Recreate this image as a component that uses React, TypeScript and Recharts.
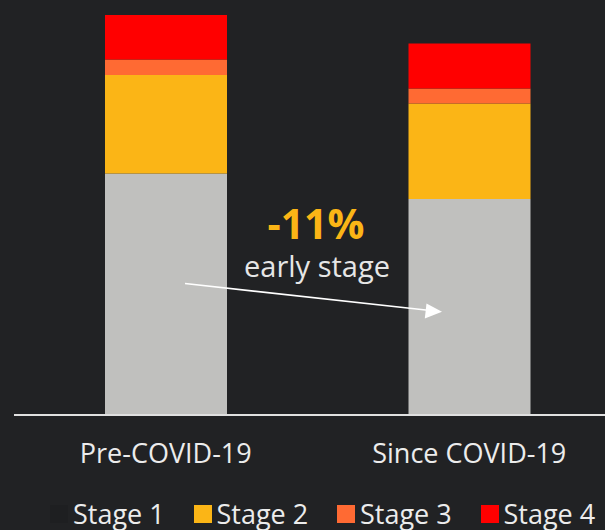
import React from "react";
import { BarChart, Bar, XAxis, YAxis, Legend } from "recharts";

const categories = ["Pre-COVID-19", "Since COVID-19"];
const stage1 = [60.4, 54.0];
const stage2 = [24.6, 23.9];
const stage3 = [3.9, 3.75];
const stage4 = [11.1, 11.25];
const seriesNames = ["Stage 1", "Stage 2", "Stage 3", "Stage 4"];
const seriesColors = ["#C0C0BE", "#FBB516", "#FF6A33", "#FF0000"];
const legendSwatch = ["#1e1f21", "#FBB516", "#FF6A33", "#FF0000"];
const changeLabel = "-11%";
const changeSub = "early stage";

const data = categories.map((c, i) => ({
  name: c,
  s1: stage1[i],
  s2: stage2[i],
  s3: stage3[i],
  s4: stage4[i],
}));

const BG = "#212224";
const FONT = "'Open Sans', sans-serif";

const Tick = (props: any) => {
  const { x, y, payload } = props;
  return (
    <text x={x} y={y + 40} textAnchor="middle" fill="#ececec" fontSize={27} fontFamily={FONT}>
      {payload.value}
    </text>
  );
};

const LegendContent = () => (
  <div style={{ position: "relative", width: 605, height: 40, fontFamily: FONT }}>
    {seriesNames.map((n, i) => (
      <div key={n} style={{ position: "absolute", left: 50 + i * 143.5, top: 14, display: "flex", alignItems: "center" }}>
        <div style={{ width: 18, height: 18, background: legendSwatch[i], marginRight: 5 }} />
        <span style={{ color: "#ececec", fontSize: 27, lineHeight: "20px", whiteSpace: "nowrap" }}>{n}</span>
      </div>
    ))}
  </div>
);

const Annotation = () => (
  <svg width={605} height={530} style={{ position: "absolute", left: 0, top: 0, pointerEvents: "none" }}>
    <text x={316} y={239} textAnchor="middle" fill="#FBB516" fontSize={41} fontWeight={700} fontFamily={FONT}>
      {changeLabel}
    </text>
    <text x={317} y={277} textAnchor="middle" fill="#e6e6e6" fontSize={29} fontFamily={FONT}>
      {changeSub}
    </text>
    <line x1={185} y1={283.5} x2={428} y2={310.3} stroke="#ffffff" strokeWidth={1.6} />
    <polygon points="442,311.8 426.5,303.6 424.8,318.5" fill="#ffffff" />
  </svg>
);

export default function App() {
  return (
    <div style={{ position: "absolute", left: 0, top: 0, width: 605, height: 530, overflow: "hidden", background: BG }}>
      <BarChart
        width={621}
        height={530}
        data={data}
        margin={{ top: 15, right: 0, bottom: 0, left: 14 }}
        barSize={122}
      >
        <YAxis hide domain={[0, 100]} allowDataOverflow />
        <XAxis
          dataKey="name"
          height={75}
          axisLine={{ stroke: "#e0e0e0", strokeWidth: 2 }}
          tickLine={false}
          tick={<Tick />}
          interval={0}
        />
        <Bar dataKey="s1" stackId="a" fill={seriesColors[0]} isAnimationActive={false} />
        <Bar dataKey="s2" stackId="a" fill={seriesColors[1]} isAnimationActive={false} />
        <Bar dataKey="s3" stackId="a" fill={seriesColors[2]} isAnimationActive={false} />
        <Bar dataKey="s4" stackId="a" fill={seriesColors[3]} isAnimationActive={false} />
        <Legend
          verticalAlign="bottom"
          content={<LegendContent />}
          wrapperStyle={{ left: 0, bottom: 0, width: 605, height: 40 }}
        />
      </BarChart>
      <Annotation />
    </div>
  );
}
